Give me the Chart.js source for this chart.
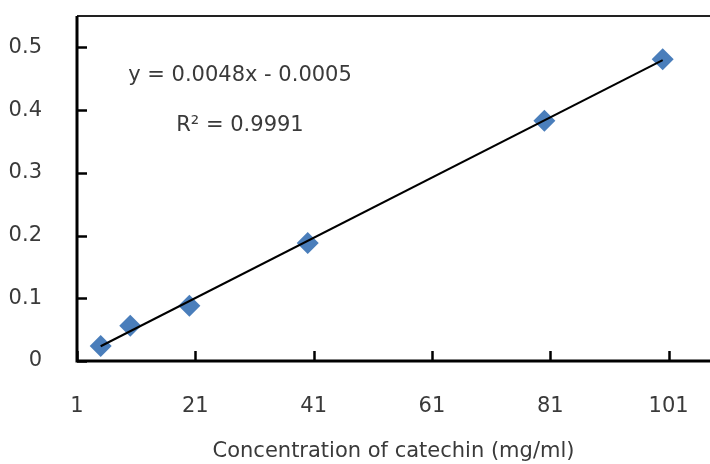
<!DOCTYPE html>
<html>
<head>
<meta charset="utf-8">
<script src="https://cdn.jsdelivr.net/npm/chart.js@4"></script>
<style>
  html, body { margin: 0; padding: 0; background: #fff; }
  #wrap { width: 710px; height: 464px; }
</style>
</head>
<body>
<div id="wrap"><canvas id="catechinChart" width="710" height="464"></canvas></div>
<script>
// Calibration data: catechin concentration vs absorbance
const concentracoes = [5, 10, 20, 40, 80, 100];
const absorbancias = [0.024, 0.056, 0.088, 0.188, 0.383, 0.481];
const ticksX = [1, 21, 41, 61, 81, 101];
const ticksY = [0, 0.1, 0.2, 0.3, 0.4, 0.5];

// Linear trendline y = a*x + b
const inclinacao = 0.0048;
const intercepto = -0.0005;
const r2 = 0.9991;

const fonte = '"DejaVu Sans", "Noto Sans", sans-serif';
const corTexto = '#3a3a3a';
const tamFonte = 21;

const linhaTendencia = [concentracoes[0], concentracoes[concentracoes.length - 1]]
  .map(x => ({ x, y: inclinacao * x + intercepto }));

// Inward tick marks, frame and equation text
const molduraPlugin = {
  id: 'moldura',
  afterDatasetsDraw(chart) {
    const { ctx, chartArea: a, scales } = chart;
    ctx.save();
    ctx.strokeStyle = '#000';
    ctx.lineWidth = 2.5;
    ctx.lineCap = 'butt';

    // y ticks pointing into the plot
    ticksY.forEach(v => {
      const py = Math.round(scales.y.getPixelForValue(v)) + 0.5;
      ctx.beginPath();
      ctx.moveTo(a.left, py);
      ctx.lineTo(a.left + 10, py);
      ctx.stroke();
    });
    // x ticks pointing up
    ticksX.forEach(v => {
      const px = Math.round(scales.x.getPixelForValue(v)) + 0.5;
      ctx.beginPath();
      ctx.moveTo(px, a.bottom);
      ctx.lineTo(px, a.bottom - 10);
      ctx.stroke();
    });

    // top frame
    ctx.lineWidth = 2;
    ctx.strokeStyle = '#222';
    ctx.beginPath();
    ctx.moveTo(a.left, a.top);
    ctx.lineTo(a.right, a.top);
    ctx.stroke();

    // left and bottom axis lines
    ctx.lineWidth = 3;
    ctx.strokeStyle = '#000';
    ctx.beginPath();
    ctx.moveTo(a.left, a.top);
    ctx.lineTo(a.left, a.bottom);
    ctx.lineTo(a.right, a.bottom);
    ctx.stroke();

    // equation
    ctx.fillStyle = corTexto;
    ctx.font = tamFonte + 'px ' + fonte;
    ctx.textAlign = 'center';
    ctx.textBaseline = 'middle';
    const sinal = intercepto < 0 ? ' - ' : ' + ';
    ctx.fillText('y = ' + inclinacao.toFixed(4) + 'x' + sinal + Math.abs(intercepto).toFixed(4), 240, 76);
    ctx.fillText('R² = ' + r2.toFixed(4), 240, 126);
    ctx.restore();
  }
};

new Chart(document.getElementById('catechinChart'), {
  type: 'scatter',
  data: {
    datasets: [
      {
        label: 'Absorbância',
        data: concentracoes.map((x, i) => ({ x, y: absorbancias[i] })),
        pointStyle: 'rectRot',
        pointRadius: 11,
        pointHoverRadius: 11,
        backgroundColor: '#4a7ebb',
        borderColor: '#4a7ebb',
        borderWidth: 0,
        clip: false,
        order: 2
      },
      {
        type: 'line',
        label: 'Linear',
        data: linhaTendencia,
        borderColor: '#000',
        borderWidth: 2,
        pointRadius: 0,
        fill: false,
        order: 1
      }
    ]
  },
  options: {
    responsive: false,
    animation: false,
    layout: { autoPadding: false, padding: { left: 0, right: 0, top: 16, bottom: 0 } },
    plugins: {
      legend: { display: false },
      tooltip: { enabled: false }
    },
    scales: {
      x: {
        type: 'linear',
        min: 1,
        max: 108,
        afterBuildTicks: s => { s.ticks = ticksX.map(v => ({ value: v })); },
        afterFit: s => {
          s.height = 103;
          s.paddingLeft = 0;
          s.paddingRight = 0;
        },
        border: { display: false },
        grid: { display: false, drawTicks: false },
        ticks: {
          padding: 33,
          color: corTexto,
          font: { family: fonte, size: tamFonte },
          maxRotation: 0
        },
        title: {
          display: true,
          text: 'Concentration of catechin (mg/ml)',
          color: corTexto,
          font: { family: fonte, size: tamFonte },
          padding: { top: 6, bottom: 0 }
        }
      },
      y: {
        min: 0,
        max: 0.55,
        afterBuildTicks: s => { s.ticks = ticksY.map(v => ({ value: v })); },
        afterFit: s => {
          s.width = 77;
          s.paddingTop = 0;
          s.paddingBottom = 0;
        },
        border: { display: false },
        grid: { display: false, drawTicks: false },
        ticks: {
          padding: 35,
          color: corTexto,
          font: { family: fonte, size: tamFonte },
          callback: v => String(Math.round(v * 10) / 10)
        }
      }
    }
  },
  plugins: [molduraPlugin]
});
</script>
</body>
</html>
